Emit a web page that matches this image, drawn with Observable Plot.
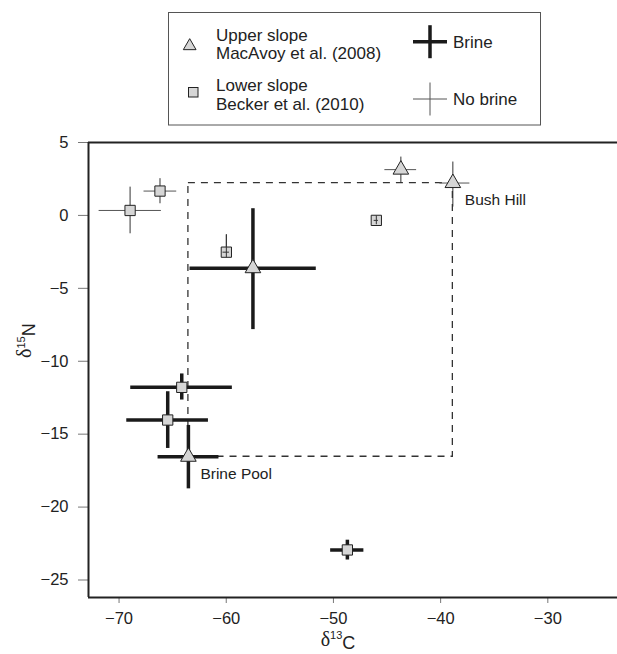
<!DOCTYPE html>
<html>
<head>
<meta charset="utf-8">
<script src="https://cdn.jsdelivr.net/npm/d3@7"></script>
<script src="https://cdn.jsdelivr.net/npm/@observablehq/plot@0.6"></script>
<style>
  html, body { margin: 0; padding: 0; background: #fff; }
  body { width: 617px; height: 654px; overflow: hidden; position: relative; font-family: "Liberation Sans", Arial, sans-serif; }
  #chart { position: absolute; left: 0; top: 0; }
  #legend { position: absolute; left: 0; top: 0; }
</style>
</head>
<body>
<div id="chart"></div>
<div id="legend"></div>
<script>
// ---- data ----
const slope  = ["Lower","Lower","Upper","Lower","Lower","Upper","Upper","Lower","Lower","Upper","Lower"];
const brine  = [false,  false,  true,   false,  false,  false,  false,  true,   true,   true,   true];
const d13C   = [-68.97, -66.18, -57.51, -59.99, -46.0,  -43.71, -38.86, -64.15, -65.46, -63.53, -48.70];
const d13Clo = [-71.86, -67.67, -63.38, -60.30, -46.2,  -45.20, -40.07, -68.91, -69.28, -66.36, -50.26];
const d13Chi = [-66.05, -64.62, -51.60, -59.70, -45.8,  -42.24, -37.27, -59.43, -61.66, -60.68, -47.16];
const d15N   = [0.34,   1.67,   -3.62,  -2.52,  -0.34,  3.14,   2.22,   -11.79, -14.03, -16.55, -22.94];
const d15Nlo = [-1.26,  0.80,   -7.83,  -2.90,  -0.64,  2.25,   0.57,   -12.66, -15.98, -18.75, -23.63];
const d15Nhi = [1.94,   2.52,   0.46,   -1.33,  -0.04,  4.00,   3.66,   -10.87, -12.09, -14.40, -22.27];
const siteLabel = ["", "", "", "", "", "", "Bush Hill", "", "", "Brine Pool", ""];
const barsOnTop = [false, false, false, true, true, false, false, false, false, false, false];
const xTicks = [-70, -60, -50, -40, -30];
const yTicks = [5, 0, -5, -10, -15, -20, -25];
const xDomain = [-72.85, -23.5];
const yDomain = [-26.2, 5];
const legendSlope = [["Upper slope", "MacAvoy et al. (2008)"], ["Lower slope", "Becker et al. (2010)"]];
const legendBrine = ["Brine", "No brine"];

const data = slope.map((s, i) => ({
  slope: s, brine: brine[i], c: d13C[i], clo: d13Clo[i], chi: d13Chi[i],
  n: d15N[i], nlo: d15Nlo[i], nhi: d15Nhi[i], label: siteLabel[i], top: barsOnTop[i]
}));
const bushHill = data.find(d => d.label === "Bush Hill");
const brinePool = data.find(d => d.label === "Brine Pool");
const box = [{x1: brinePool.c, x2: bushHill.c, y1: brinePool.n, y2: bushHill.n}];

const FONT = "'Liberation Sans', Arial, sans-serif";
const thick = data.filter(d => d.brine);
const thin = data.filter(d => !d.brine);
const thinTop = data.filter(d => !d.brine && d.top);

const chart = Plot.plot({
  width: 617, height: 654,
  marginTop: 142, marginLeft: 88, marginRight: 0, marginBottom: 57,
  x: {domain: xDomain, ticks: xTicks, tickSize: 6, tickPadding: 9, label: null},
  y: {domain: yDomain, ticks: yTicks, tickSize: 10, tickPadding: 10, label: null},
  symbol: {domain: ["Upper", "Lower"], range: ["triangle", "square"]},
  style: {fontFamily: FONT, fontSize: "16.5px", color: "#222", background: "#fff"},
  marks: [
    Plot.rect(box, {x1: "x1", x2: "x2", y1: "y1", y2: "y2", fill: "none", stroke: "#333", strokeWidth: 1.3, strokeDasharray: "7,6"}),
    Plot.ruleX([xDomain[0]], {stroke: "#222", strokeWidth: 2}),
    Plot.ruleY([yDomain[0], yDomain[1]], {stroke: "#222", strokeWidth: 2}),
    Plot.ruleY(thick, {y: "n", x1: "clo", x2: "chi", stroke: "#1a1a1a", strokeWidth: 3.5}),
    Plot.ruleX(thick, {x: "c", y1: "nlo", y2: "nhi", stroke: "#1a1a1a", strokeWidth: 3.5}),
    Plot.ruleY(thin, {y: "n", x1: "clo", x2: "chi", stroke: "#555", strokeWidth: 1}),
    Plot.ruleX(thin, {x: "c", y1: "nlo", y2: "nhi", stroke: "#333", strokeWidth: 1}),
    Plot.dot(data, {x: "c", y: "n", symbol: "slope", r: 5.8, fill: "#d6d6d6", stroke: "#222", strokeWidth: 1}),
    Plot.ruleY(thinTop, {y: "n", x1: "clo", x2: "chi", stroke: "#333", strokeWidth: 1}),
    Plot.ruleX(thinTop, {x: "c", y1: "nlo", y2: "nhi", stroke: "#333", strokeWidth: 1}),
    Plot.text(data.filter(d => d.label), {x: "c", y: "n", text: "label", textAnchor: "start", dx: 12, dy: 17, fontSize: 15.5, fill: "#222"}),
    Plot.text(["δ13C"], {frameAnchor: "bottom", dx: -15, dy: 48, fontSize: 17, fill: "#222"}),
    Plot.text(["δ15N"], {frameAnchor: "left", rotate: -90, dx: -63, dy: -12, fontSize: 17, fill: "#222"})
  ]
});

// superscripts in the axis titles, grey tick lines
d3.select(chart).selectAll("text").each(function() {
  const t = this.textContent;
  const m = t.match(/^δ(\d+)([A-Z])$/);
  if (m) {
    const el = d3.select(this);
    el.text("");
    el.append("tspan").attr("font-family", "'Liberation Serif', serif").attr("font-size", 20).text("δ");
    el.append("tspan").attr("font-size", 11).attr("dy", "-0.55em").text(m[1]);
    el.append("tspan").attr("dy", "0.55em").attr("font-size", 18).text(m[2]);
  }
});
d3.select(chart).selectAll('g[aria-label="x-axis tick"], g[aria-label="y-axis tick"]').attr("stroke", "#777");
d3.select(chart).selectAll('g[aria-label="x-axis"] line, g[aria-label="y-axis"] line, .tick line').attr("stroke", "#777");

document.getElementById("chart").appendChild(chart);

// ---- legend (above the plot frame) ----
const lg = d3.select("#legend").append("svg").attr("width", 617).attr("height", 135)
  .style("display", "block").style("font-family", FONT).style("font-size", "17px");
lg.append("rect").attr("x", 168.5).attr("y", 12.5).attr("width", 372).attr("height", 112.5)
  .attr("fill", "#fff").attr("stroke", "#555").attr("stroke-width", 1);
// symbols
lg.append("path").attr("d", d3.symbol(d3.symbolTriangle, 70)()).attr("transform", "translate(189.7,46)")
  .attr("fill", "#d6d6d6").attr("stroke", "#222").attr("stroke-width", 1);
lg.append("rect").attr("x", 188.5).attr("y", 87.5).attr("width", 9.5).attr("height", 9.5)
  .attr("fill", "#d6d6d6").attr("stroke", "#222").attr("stroke-width", 1);
const lineY = [[40.7, 59.3], [90.7, 110]];
legendSlope.forEach((lines, i) => {
  lines.forEach((s, j) => lg.append("text").attr("x", 216).attr("y", lineY[i][j]).attr("fill", "#222").text(s));
});
// crosses
const crossY = [41.7, 99];
const crossW = [3.5, 1];
const crossC = ["#1a1a1a", "#555"];
legendBrine.forEach((s, i) => {
  lg.append("line").attr("x1", 413).attr("x2", 447).attr("y1", crossY[i]).attr("y2", crossY[i])
    .attr("stroke", crossC[i]).attr("stroke-width", crossW[i]);
  lg.append("line").attr("x1", 430).attr("x2", 430).attr("y1", crossY[i] - 16.5).attr("y2", crossY[i] + 16.5)
    .attr("stroke", crossC[i]).attr("stroke-width", crossW[i]);
  lg.append("text").attr("x", 453).attr("y", crossY[i] + 6).attr("fill", "#222").text(s);
});
</script>
</body>
</html>
